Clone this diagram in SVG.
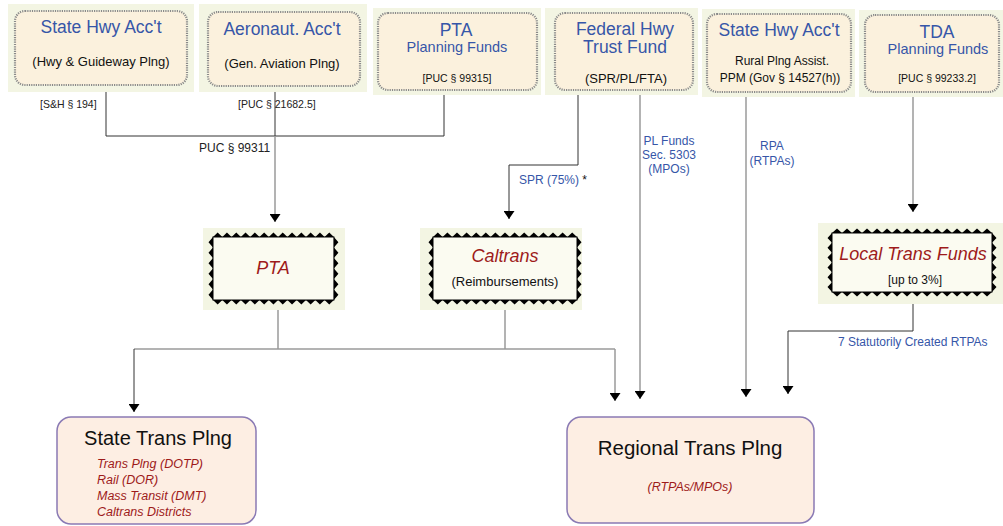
<svg xmlns="http://www.w3.org/2000/svg" width="1003" height="526" viewBox="0 0 1003 526">
<style>
text{font-family:"Liberation Sans",Arial,sans-serif}
.bg{fill:#f3f5e3}
.wav{fill:#fbf1dd;stroke:#8a8a8a;stroke-width:2.2;stroke-dasharray:1.2 1.1}
.ttl{font-size:17.5px;fill:#3656a8;text-anchor:middle}
.sub{font-size:14.5px;fill:#3656a8;text-anchor:middle}
.blk{fill:#111;text-anchor:middle}
.ref{font-size:10.5px;fill:#222}
.lbl{font-size:12px;fill:#3656a8}
.spk{fill:#000}
.mid{fill:#fbfbf1;stroke:#000;stroke-width:1}
.it{font-style:italic;fill:#9e1b1b;text-anchor:middle}
.bot{fill:#fdeee3;stroke:#8a7ab4;stroke-width:1.5}
.c{fill:none;stroke:#333;stroke-width:1}
.g{fill:none;stroke:#9a9a9a;stroke-width:1.5}
</style>
<defs>
<marker id="ah" viewBox="0 0 8 11" refX="8" refY="5.5" markerWidth="8" markerHeight="11" markerUnits="userSpaceOnUse" orient="auto">
<path d="M0,0 L8,5.5 L0,11 z" fill="#000"/>
</marker>
</defs>

<g id="connectors">
<path class="c" d="M106,92 V136 H444 V95"/>
<path class="c" d="M275,92 V136"/>
<path class="g" d="M275,136 V222" marker-end="url(#ah)"/>
<path class="c" d="M578,95 V165 H509 V219" stroke="#555" marker-end="url(#ah)"/>
<path class="g" d="M640,95 V399" marker-end="url(#ah)"/>
<path class="g" d="M746,97 V397" marker-end="url(#ah)"/>
<path class="g" d="M913,97 V212" stroke="#888" marker-end="url(#ah)"/>
<path class="c" d="M913,304 V331 H788 V394" stroke="#444" marker-end="url(#ah)"/>
<path class="g" d="M278,310 V349 M505,310 V349 M134,349 H615"/>
<path class="c" d="M134,349 V412" marker-end="url(#ah)"/>
<path class="g" d="M615,349 V401" marker-end="url(#ah)"/>
<text class="ref" x="40" y="108">[S&amp;H § 194]</text>
<text class="ref" x="238" y="108">[PUC § 21682.5]</text>
<text x="199" y="152" font-size="12" fill="#222">PUC § 99311</text>
<text class="lbl" x="519" y="184">SPR (75%) <tspan fill="#111">*</tspan></text>
<text class="lbl" text-anchor="middle"><tspan x="669" y="145">PL Funds</tspan><tspan x="669" y="159">Sec. 5303</tspan><tspan x="669" y="173">(MPOs)</tspan></text>
<text class="lbl" text-anchor="middle"><tspan x="772" y="150">RPA</tspan><tspan x="772" y="165">(RTPAs)</tspan></text>
<text class="lbl" x="838" y="346">7 Statutorily Created RTPAs</text>
</g>

<g id="n-shwy1">
<rect class="bg" x="8" y="4" width="186" height="88"/>
<rect class="wav" x="15" y="11" width="172" height="74" rx="10"/>
<text class="ttl" x="101" y="33">State Hwy Acc't</text>
<text class="blk" x="101" y="66" font-size="13">(Hwy &amp; Guideway Plng)</text>
</g>

<g id="n-aero">
<rect class="bg" x="199" y="4" width="168" height="88"/>
<rect class="wav" x="208" y="12" width="152" height="74" rx="10"/>
<text class="ttl" x="282" y="35">Aeronaut. Acc't</text>
<text class="blk" x="282" y="68" font-size="13">(Gen. Aviation Plng)</text>
</g>

<g id="n-pta-funds">
<rect class="bg" x="373" y="8" width="168" height="87"/>
<rect class="wav" x="378" y="13" width="159" height="77" rx="10"/>
<text class="ttl" x="456" y="36">PTA</text>
<text class="sub" x="457" y="52">Planning Funds</text>
<text class="blk" x="457" y="82" font-size="10.5">[PUC § 99315]</text>
</g>

<g id="n-fhwy">
<rect class="bg" x="545" y="8" width="153" height="87"/>
<rect class="wav" x="555" y="13" width="138" height="77" rx="10"/>
<text class="ttl" x="625" y="35">Federal Hwy</text>
<text class="ttl" x="625" y="53">Trust Fund</text>
<text class="blk" x="626" y="83" font-size="13">(SPR/PL/FTA)</text>
</g>

<g id="n-shwy2">
<rect class="bg" x="702" y="9" width="153" height="88"/>
<rect class="wav" x="707" y="14" width="144" height="78" rx="10"/>
<text class="ttl" x="779" y="36">State Hwy Acc't</text>
<text class="blk" x="782" y="65" font-size="12">Rural Plng Assist.</text>
<text class="blk" x="780" y="82" font-size="12">PPM (Gov § 14527(h))</text>
</g>

<g id="n-tda">
<rect class="bg" x="859" y="10" width="150" height="87"/>
<rect class="wav" x="865" y="15" width="134" height="77" rx="10"/>
<text class="ttl" x="937" y="38">TDA</text>
<text class="sub" x="938" y="54">Planning Funds</text>
<text class="blk" x="937" y="82" font-size="10.5">[PUC § 99233.2]</text>
</g>

<g id="n-pta">
<rect class="bg" x="203" y="228" width="142" height="82"/>
<path class="spk" d="M213,237 l4.65,-4.5 4.65,4.5 4.65,-4.5 4.65,4.5 4.65,-4.5 4.65,4.5 4.65,-4.5 4.65,4.5 4.65,-4.5 4.65,4.5 4.65,-4.5 4.65,4.5 4.65,-4.5 4.65,4.5 4.65,-4.5 4.65,4.5 4.65,-4.5 4.65,4.5 4.65,-4.5 4.65,4.5 4.65,-4.5 4.65,4.5 4.65,-4.5 4.65,4.5 4.65,-4.5 4.65,4.5 z
M213,300 l4.65,4.5 4.65,-4.5 4.65,4.5 4.65,-4.5 4.65,4.5 4.65,-4.5 4.65,4.5 4.65,-4.5 4.65,4.5 4.65,-4.5 4.65,4.5 4.65,-4.5 4.65,4.5 4.65,-4.5 4.65,4.5 4.65,-4.5 4.65,4.5 4.65,-4.5 4.65,4.5 4.65,-4.5 4.65,4.5 4.65,-4.5 4.65,4.5 4.65,-4.5 4.65,4.5 4.65,-4.5 z
M213,237 l-4.5,5.25 4.5,5.25 -4.5,5.25 4.5,5.25 -4.5,5.25 4.5,5.25 -4.5,5.25 4.5,5.25 -4.5,5.25 4.5,5.25 -4.5,5.25 4.5,5.25 z
M333.9,237 l4.5,5.25 -4.5,5.25 4.5,5.25 -4.5,5.25 4.5,5.25 -4.5,5.25 4.5,5.25 -4.5,5.25 4.5,5.25 -4.5,5.25 4.5,5.25 -4.5,5.25 z"/>
<rect class="mid" x="213" y="237" width="120.9" height="63"/>
<text class="it" x="273" y="274" font-size="18">PTA</text>
</g>

<g id="n-caltrans">
<rect class="bg" x="420" y="228" width="162" height="82"/>
<path class="spk" d="M433,237 l4.8,-4.5 4.8,4.5 4.8,-4.5 4.8,4.5 4.8,-4.5 4.8,4.5 4.8,-4.5 4.8,4.5 4.8,-4.5 4.8,4.5 4.8,-4.5 4.8,4.5 4.8,-4.5 4.8,4.5 4.8,-4.5 4.8,4.5 4.8,-4.5 4.8,4.5 4.8,-4.5 4.8,4.5 4.8,-4.5 4.8,4.5 4.8,-4.5 4.8,4.5 4.8,-4.5 4.8,4.5 4.8,-4.5 4.8,4.5 4.8,-4.5 4.8,4.5 z
M433,300 l4.8,4.5 4.8,-4.5 4.8,4.5 4.8,-4.5 4.8,4.5 4.8,-4.5 4.8,4.5 4.8,-4.5 4.8,4.5 4.8,-4.5 4.8,4.5 4.8,-4.5 4.8,4.5 4.8,-4.5 4.8,4.5 4.8,-4.5 4.8,4.5 4.8,-4.5 4.8,4.5 4.8,-4.5 4.8,4.5 4.8,-4.5 4.8,4.5 4.8,-4.5 4.8,4.5 4.8,-4.5 4.8,4.5 4.8,-4.5 4.8,4.5 4.8,-4.5 z
M433,237 l-4.5,5.25 4.5,5.25 -4.5,5.25 4.5,5.25 -4.5,5.25 4.5,5.25 -4.5,5.25 4.5,5.25 -4.5,5.25 4.5,5.25 -4.5,5.25 4.5,5.25 z
M577,237 l4.5,5.25 -4.5,5.25 4.5,5.25 -4.5,5.25 4.5,5.25 -4.5,5.25 4.5,5.25 -4.5,5.25 4.5,5.25 -4.5,5.25 4.5,5.25 -4.5,5.25 z"/>
<rect class="mid" x="433" y="237" width="144" height="63"/>
<text class="it" x="505" y="262" font-size="18">Caltrans</text>
<text class="blk" x="505" y="286" font-size="13">(Reimbursements)</text>
</g>

<g id="n-ltf">
<rect class="bg" x="818" y="223" width="190" height="81"/>
<path class="spk" d="M832,233 l5,-4.5 5,4.5 5,-4.5 5,4.5 5,-4.5 5,4.5 5,-4.5 5,4.5 5,-4.5 5,4.5 5,-4.5 5,4.5 5,-4.5 5,4.5 5,-4.5 5,4.5 5,-4.5 5,4.5 5,-4.5 5,4.5 5,-4.5 5,4.5 5,-4.5 5,4.5 5,-4.5 5,4.5 5,-4.5 5,4.5 5,-4.5 5,4.5 5,-4.5 5,4.5 z
M832,292 l5,4.5 5,-4.5 5,4.5 5,-4.5 5,4.5 5,-4.5 5,4.5 5,-4.5 5,4.5 5,-4.5 5,4.5 5,-4.5 5,4.5 5,-4.5 5,4.5 5,-4.5 5,4.5 5,-4.5 5,4.5 5,-4.5 5,4.5 5,-4.5 5,4.5 5,-4.5 5,4.5 5,-4.5 5,4.5 5,-4.5 5,4.5 5,-4.5 5,4.5 5,-4.5 z
M832,233 l-4.5,4.92 4.5,4.92 -4.5,4.92 4.5,4.92 -4.5,4.92 4.5,4.92 -4.5,4.92 4.5,4.92 -4.5,4.92 4.5,4.92 -4.5,4.92 4.5,4.92 z
M992,233 l4.5,4.92 -4.5,4.92 4.5,4.92 -4.5,4.92 4.5,4.92 -4.5,4.92 4.5,4.92 -4.5,4.92 4.5,4.92 -4.5,4.92 4.5,4.92 -4.5,4.92 z"/>
<rect class="mid" x="832" y="233" width="160" height="59"/>
<text class="it" x="913" y="260" font-size="18">Local Trans Funds</text>
<text class="blk" x="915" y="284" font-size="12">[up to 3%]</text>
</g>

<g id="n-state">
<rect class="bot" x="57" y="417" width="199" height="107" rx="14"/>
<text x="158" y="445" font-size="20" fill="#111" text-anchor="middle">State Trans Plng</text>
<text font-size="12.5" font-style="italic" fill="#9e1b1b"><tspan x="97" y="468">Trans Plng (DOTP)</tspan><tspan x="97" y="484">Rail (DOR)</tspan><tspan x="97" y="500">Mass Transit (DMT)</tspan><tspan x="97" y="516">Caltrans Districts</tspan></text>
</g>

<g id="n-regional">
<rect class="bot" x="567" y="417" width="247" height="106" rx="14"/>
<text x="690" y="455" font-size="20.5" fill="#111" text-anchor="middle">Regional Trans Plng</text>
<text class="it" x="690" y="491" font-size="12.5">(RTPAs/MPOs)</text>
</g>
</svg>
